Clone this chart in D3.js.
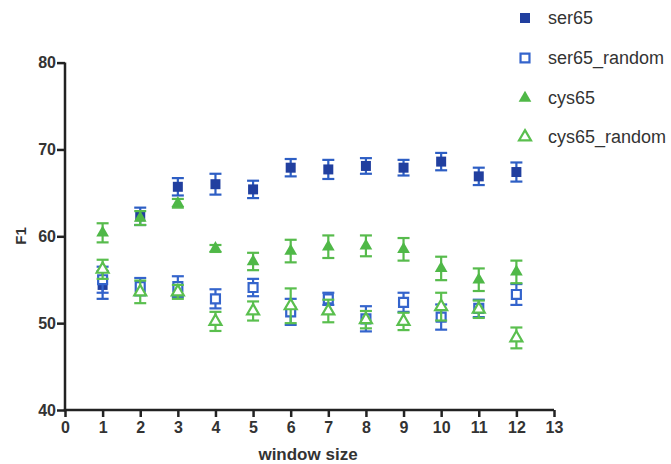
<!DOCTYPE html>
<html><head><meta charset="utf-8">
<script src="https://cdn.jsdelivr.net/npm/d3@7"></script>
<style>body{margin:0;background:#fff}svg{display:block}text{font-family:"Liberation Sans",Arial,sans-serif}</style>
</head><body><svg id="c" width="671" height="464"></svg>
<script>
const windowSizes = [1,2,3,4,5,6,7,8,9,10,11,12];
const xTicks = [0,1,2,3,4,5,6,7,8,9,10,11,12,13];
const yTicks = [40,50,60,70,80];
const ser65 = [54.4,62.3,65.7,66.0,65.4,67.9,67.7,68.1,67.9,68.6,66.9,67.4];
const ser65Err = [1.6,1.0,1.0,1.2,1.0,1.0,1.1,0.9,0.9,1.0,1.0,1.1];
const ser65Random = [55.0,54.2,54.2,52.8,54.1,51.3,52.8,50.5,52.4,50.7,51.7,53.3];
const ser65RandomErr = [1.5,1.0,1.2,1.1,1.0,1.5,0.7,1.45,1.1,1.45,1.0,1.2];
const cys65 = [60.4,62.1,63.8,58.6,57.1,58.3,58.8,58.9,58.5,56.3,55.0,55.9];
const cys65Err = [1.1,0.8,0.5,0.4,1.0,1.3,1.3,1.2,1.3,1.35,1.3,1.3];
const cys65Random = [56.2,53.6,53.6,50.2,51.4,52.0,51.4,50.4,50.2,51.9,51.6,48.3];
const cys65RandomErr = [1.1,1.3,0.8,1.1,1.1,2.0,1.3,1.0,1.0,1.6,1.0,1.2];
const seriesNames = ["ser65","ser65_random","cys65","cys65_random"];

const series = [
  {name:seriesNames[0], vals:ser65, err:ser65Err, shape:d3.symbolSquare, size:100, fill:"#213f9f", stroke:"none", bar:"#2d5ec4"},
  {name:seriesNames[1], vals:ser65Random, err:ser65RandomErr, shape:d3.symbolSquare, size:80, fill:"#fff", stroke:"#3464cc", bar:"#3464cc"},
  {name:seriesNames[2], vals:cys65, err:cys65Err, shape:d3.symbolTriangle, size:70, fill:"#4fb847", stroke:"none", bar:"#57bb4c"},
  {name:seriesNames[3], vals:cys65Random, err:cys65RandomErr, shape:d3.symbolTriangle, size:62, fill:"#fff", stroke:"#5abf4e", bar:"#5abf4e"}
];

const svg = d3.select("#c");
const x = d3.scaleLinear().domain([0,13]).range([65,554]);
const y = d3.scaleLinear().domain([40,80]).range([410,62.6]);

const ax = svg.append("g").attr("transform","translate(0,410)")
  .call(d3.axisBottom(x).tickValues(xTicks).tickSize(7).tickPadding(5).tickSizeOuter(0));
const ay = svg.append("g").attr("transform","translate(65,0)")
  .call(d3.axisLeft(y).tickValues(yTicks).tickSize(8).tickPadding(1).tickSizeOuter(0));
[ax,ay].forEach(a=>{
  a.selectAll("path,line").attr("stroke","#222").attr("stroke-width",2.5);
  a.selectAll("text").attr("fill","#333").attr("font-size",16).attr("font-weight","bold");
});
ax.select(".domain").attr("d","M63.75,0H554");
ay.select(".domain").attr("d","M0,62.6V411.25");

svg.append("text").attr("x",308).attr("y",460).attr("text-anchor","middle")
  .attr("font-size",17).attr("font-weight","bold").attr("fill","#333").text("window size");
svg.append("text").attr("transform","translate(26,236) rotate(-90)").attr("text-anchor","middle")
  .attr("font-size",15).attr("font-weight","bold").attr("fill","#333").text("F1");

const cap = 6;
series.forEach(s=>{
  const g = svg.append("g");
  const d = windowSizes.map((w,i)=>({w, v:s.vals[i], e:s.err[i]}));
  g.selectAll("line.v").data(d).join("line")
    .attr("x1",p=>x(p.w)).attr("x2",p=>x(p.w))
    .attr("y1",p=>y(p.v+p.e)).attr("y2",p=>y(p.v-p.e))
    .attr("stroke",s.bar).attr("stroke-width",2.2);
  [1,-1].forEach(sg=>{
    g.selectAll("line.c"+sg).data(d).join("line")
      .attr("x1",p=>x(p.w)-cap).attr("x2",p=>x(p.w)+cap)
      .attr("y1",p=>y(p.v+sg*p.e)).attr("y2",p=>y(p.v+sg*p.e))
      .attr("stroke",s.bar).attr("stroke-width",2.2);
  });
  g.selectAll("path.m").data(d).join("path")
    .attr("transform",p=>`translate(${x(p.w)},${y(p.v)})`)
    .attr("d",d3.symbol(s.shape,s.size))
    .attr("fill",s.fill).attr("stroke",s.stroke).attr("stroke-width",2.2);
});

const legY = [18,58,98,137];
const lg = svg.append("g");
series.forEach((s,i)=>{
  lg.append("path").attr("transform",`translate(525,${legY[i]})`)
    .attr("d",d3.symbol(s.shape,s.size)).attr("fill",s.fill).attr("stroke",s.stroke).attr("stroke-width",2.2);
  lg.append("text").attr("x",548).attr("y",legY[i]+6).attr("font-size",18).attr("fill","#333").text(s.name);
});
</script></body></html>
